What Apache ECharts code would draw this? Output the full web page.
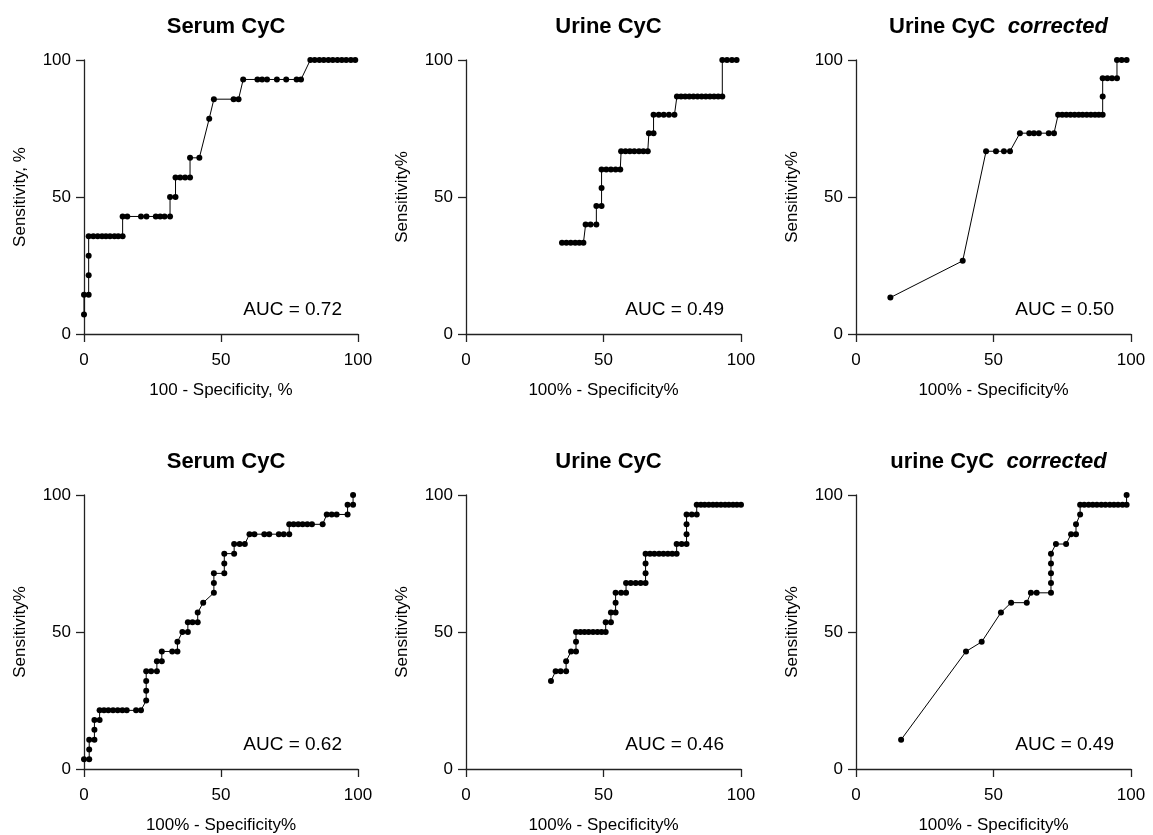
<!DOCTYPE html>
<html>
<head>
<meta charset="utf-8">
<script src="https://cdn.jsdelivr.net/npm/echarts@6/dist/echarts.min.js"></script>
<style>
  html, body { margin: 0; padding: 0; background: #fff; }
  #main { width: 1153px; height: 835px; }
</style>
</head>
<body>
<div id="main"></div>
<script>
// ROC points, [100 - specificity, sensitivity] in %
var serumTop = [
  [0, 7.1], [0, 14.3], [1.7, 14.3], [1.7, 21.4], [1.7, 28.6], [1.7, 35.7],
  [3.4, 35.7], [5.0, 35.7], [6.6, 35.7], [8.0, 35.7], [9.5, 35.7], [11.1, 35.7], [12.5, 35.7], [14.1, 35.7],
  [14.1, 42.9], [15.8, 42.9], [20.8, 42.9], [22.8, 42.9], [26.2, 42.9], [27.8, 42.9], [29.4, 42.9], [31.4, 42.9],
  [31.4, 50], [33.4, 50],
  [33.4, 57.1], [35.1, 57.1], [36.9, 57.1], [38.7, 57.1],
  [38.7, 64.3], [42.1, 64.3],
  [45.7, 78.6],
  [47.4, 85.7], [54.6, 85.7], [56.4, 85.7],
  [58.1, 92.9], [63.3, 92.9], [65.0, 92.9], [66.8, 92.9], [70.4, 92.9], [73.8, 92.9], [77.6, 92.9], [79.2, 92.9],
  [82.6, 100], [84.2, 100], [85.9, 100], [87.5, 100], [89.2, 100], [90.8, 100], [92.5, 100], [94.1, 100], [95.7, 100], [97.4, 100], [99.0, 100]
];
var urineTop = [
  [34.9, 33.3], [36.5, 33.3], [38.1, 33.3], [39.7, 33.3], [41.2, 33.3], [42.7, 33.3],
  [43.5, 40], [45.3, 40], [47.4, 40],
  [47.4, 46.7], [49.3, 46.7],
  [49.3, 53.3],
  [49.3, 60], [51.0, 60], [52.7, 60], [54.4, 60], [56.1, 60],
  [56.4, 66.7], [58.0, 66.7], [59.6, 66.7], [61.2, 66.7], [62.9, 66.7], [64.5, 66.7], [66.1, 66.7],
  [66.5, 73.3], [68.2, 73.3],
  [68.2, 80], [70.1, 80], [71.9, 80], [73.8, 80], [75.8, 80],
  [76.7, 86.7], [78.2, 86.7], [79.7, 86.7], [81.2, 86.7], [82.7, 86.7], [84.2, 86.7], [85.7, 86.7], [87.2, 86.7], [88.7, 86.7], [90.2, 86.7], [91.7, 86.7], [93.2, 86.7],
  [93.2, 100], [94.9, 100], [96.7, 100], [98.4, 100]
];
var urineCorrTop = [
  [12.5, 13.3], [38.8, 26.7],
  [47.3, 66.7], [50.9, 66.7], [53.8, 66.7], [56.0, 66.7],
  [59.6, 73.3], [63.0, 73.3], [64.7, 73.3], [66.5, 73.3], [70.1, 73.3], [72.0, 73.3],
  [73.5, 80], [75.0, 80], [76.5, 80], [78.0, 80], [79.5, 80], [81.0, 80], [82.4, 80], [83.9, 80], [85.4, 80], [86.9, 80], [88.3, 80], [89.7, 80],
  [89.7, 86.7], [89.7, 93.3], [91.4, 93.3], [93.1, 93.3], [94.9, 93.3],
  [94.9, 100], [96.6, 100], [98.4, 100]
];
var serumBottom = [
  [0, 3.6], [1.9, 3.6], [1.9, 7.1], [1.9, 10.7], [3.8, 10.7], [3.8, 14.3], [3.8, 17.9], [5.7, 17.9],
  [5.7, 21.4], [7.3, 21.4], [8.9, 21.4], [10.6, 21.4], [12.3, 21.4], [14.0, 21.4], [15.6, 21.4], [19.0, 21.4], [20.8, 21.4],
  [22.7, 25], [22.7, 28.6], [22.7, 32.1], [22.7, 35.7], [24.5, 35.7], [26.6, 35.7],
  [26.6, 39.3], [28.4, 39.3],
  [28.4, 42.9], [32.2, 42.9], [34.1, 42.9],
  [34.1, 46.4],
  [35.9, 50], [37.9, 50],
  [37.9, 53.6], [39.6, 53.6], [41.5, 53.6],
  [41.5, 57.1],
  [43.5, 60.7],
  [47.4, 64.3], [47.4, 67.9], [47.4, 71.4], [51.2, 71.4],
  [51.2, 75], [51.2, 78.6], [54.8, 78.6],
  [54.8, 82.1], [56.8, 82.1], [58.7, 82.1],
  [60.4, 85.7], [62.2, 85.7], [65.8, 85.7], [67.6, 85.7], [71.1, 85.7], [72.9, 85.7], [74.9, 85.7],
  [74.9, 89.3], [76.5, 89.3], [78.2, 89.3], [79.8, 89.3], [81.5, 89.3], [83.2, 89.3], [87.1, 89.3],
  [88.6, 92.9], [90.4, 92.9], [92.2, 92.9], [96.2, 92.9],
  [96.2, 96.4], [98.2, 96.4],
  [98.2, 100]
];
var urineBottom = [
  [30.9, 32.1], [32.6, 35.7], [34.4, 35.7], [36.4, 35.7], [36.4, 39.3], [38.2, 42.9], [40.0, 42.9], [40.0, 46.4],
  [40.0, 50], [41.6, 50], [43.1, 50], [44.6, 50], [46.2, 50], [47.8, 50], [49.3, 50], [50.8, 50],
  [50.8, 53.6], [52.7, 53.6], [52.7, 57.1], [54.4, 57.1], [54.4, 60.7], [54.4, 64.3], [56.4, 64.3], [58.2, 64.3],
  [58.2, 67.9], [59.9, 67.9], [61.7, 67.9], [63.5, 67.9], [65.3, 67.9],
  [65.3, 71.4], [65.3, 75], [65.3, 78.6], [66.9, 78.6], [68.5, 78.6], [70.2, 78.6], [71.8, 78.6], [73.4, 78.6], [75.0, 78.6], [76.6, 78.6],
  [76.6, 82.1], [78.4, 82.1], [80.2, 82.1],
  [80.2, 85.7], [80.2, 89.3], [80.2, 92.9], [82.1, 92.9], [83.9, 92.9],
  [83.9, 96.4], [85.4, 96.4], [86.8, 96.4], [88.3, 96.4], [89.8, 96.4], [91.2, 96.4], [92.7, 96.4], [94.2, 96.4], [95.6, 96.4], [97.1, 96.4], [98.5, 96.4], [100, 96.4]
];
var urineCorrBottom = [
  [16.4, 10.7], [40.0, 42.9], [45.7, 46.4], [52.7, 57.1], [56.4, 60.7], [62.1, 60.7],
  [63.6, 64.3], [65.7, 64.3], [70.9, 64.3],
  [70.9, 67.9], [70.9, 71.4], [70.9, 75], [70.9, 78.6],
  [72.7, 82.1], [76.4, 82.1],
  [78.2, 85.7], [80.0, 85.7], [80.0, 89.3],
  [81.5, 92.9],
  [81.5, 96.4], [83.0, 96.4], [84.6, 96.4], [86.1, 96.4], [87.6, 96.4], [89.2, 96.4], [90.7, 96.4], [92.3, 96.4], [93.8, 96.4], [95.3, 96.4], [96.9, 96.4], [98.4, 96.4],
  [98.4, 100]
];

var panelData = [serumTop, urineTop, urineCorrTop, serumBottom, urineBottom, urineCorrBottom];
var titles = ['Serum CyC', 'Urine CyC', '{b|Urine CyC}  {i|corrected}', 'Serum CyC', 'Urine CyC', '{b|urine CyC}  {i|corrected}'];
var aucLabels = ['AUC = 0.72', 'AUC = 0.49', 'AUC = 0.50', 'AUC = 0.62', 'AUC = 0.46', 'AUC = 0.49'];
var xNames = ['100 - Specificity, %', '100% - Specificity%', '100% - Specificity%', '100% - Specificity%', '100% - Specificity%', '100% - Specificity%'];
var yNames = ['Sensitivity, %', 'Sensitivity%', 'Sensitivity%', 'Sensitivity%', 'Sensitivity%', 'Sensitivity%'];

var FONT = 'Liberation Sans, Arial, sans-serif';
var lefts = [84, 466, 856];
var widths = [274, 275, 275];
var tops = [60, 495];
var H = 274;

var myChart = echarts.init(document.getElementById('main'));

var grid = [], xAxis = [], yAxis = [], series = [], title = [], graphic = [];
for (var i = 0; i < 6; i++) {
  var col = i % 3, row = Math.floor(i / 3);
  var L = lefts[col], T = tops[row], W = widths[col];
  grid.push({ left: L, top: T, width: W, height: H });
  var axisCommon = {
    min: 0, max: 100, interval: 50,
    nameLocation: 'middle',
    nameTextStyle: { fontSize: 17, color: '#000', fontFamily: FONT },
    axisLine: { lineStyle: { color: '#222', width: 1.3 } },
    axisTick: { length: 8, lineStyle: { color: '#222', width: 1.3 } },
    splitLine: { show: false },
    axisLabel: { fontSize: 17, color: '#000', fontFamily: FONT }
  };
  xAxis.push(Object.assign({}, axisCommon, {
    type: 'value', gridIndex: i, name: xNames[i], nameGap: 48,
    axisLabel: Object.assign({}, axisCommon.axisLabel, { margin: 18 })
  }));
  yAxis.push(Object.assign({}, axisCommon, {
    type: 'value', gridIndex: i, name: yNames[i], nameGap: 55,
    axisLabel: Object.assign({}, axisCommon.axisLabel, { margin: 13 })
  }));
  series.push({
    type: 'line', xAxisIndex: i, yAxisIndex: i,
    data: panelData[i],
    symbol: 'circle', symbolSize: 6,
    itemStyle: { color: '#000' },
    lineStyle: { color: '#000', width: 1 },
    animation: false
  });
  title.push({
    text: titles[i],
    left: L + W / 2, top: row === 0 ? 11 : 446,
    textAlign: 'center',
    textStyle: {
      fontSize: 22, fontWeight: 'bold', color: '#000', fontFamily: FONT,
      rich: {
        b: { fontSize: 22, fontWeight: 'bold', color: '#000', fontFamily: FONT },
        i: { fontSize: 22, fontWeight: 'bold', fontStyle: 'italic', color: '#000', fontFamily: FONT }
      }
    }
  });
  graphic.push({
    type: 'text',
    x: L + 258, y: T + 250,
    style: {
      text: aucLabels[i], fill: '#000', font: '19px ' + FONT,
      align: 'right', verticalAlign: 'middle'
    }
  });
}

var option = {
  backgroundColor: '#fff',
  animation: false,
  title: title,
  grid: grid,
  xAxis: xAxis,
  yAxis: yAxis,
  series: series,
  graphic: graphic
};
option && myChart.setOption(option);
</script>
</body>
</html>
